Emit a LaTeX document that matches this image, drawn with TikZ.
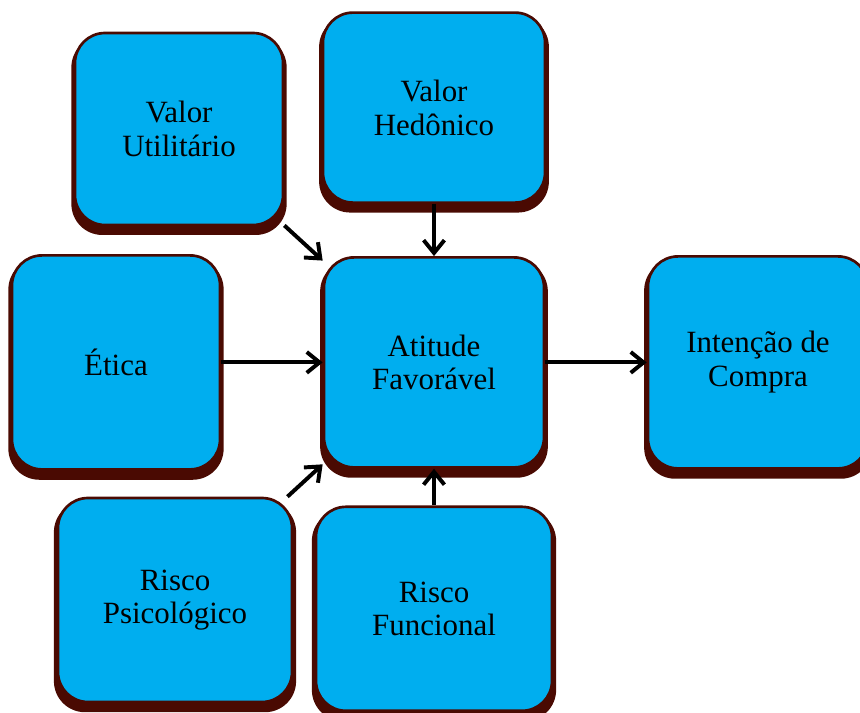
\documentclass[tikz,border=0pt]{standalone}
\usepackage{xcolor}
\usepackage{fontspec}
\setmainfont{Liberation Serif}
\usetikzlibrary{arrows.meta,shadows}
\definecolor{boxblue}{HTML}{00AEEF}
\definecolor{boxmaroon}{HTML}{4A0A02}

\begin{document}
\begin{tikzpicture}[
        bloco/.style={draw=boxmaroon, line width=1.9pt, fill=boxblue, rounded corners=0.75cm,
            align=center, text centered, font=\fontsize{22}{24}\selectfont,
            minimum width=5.4cm, minimum height=5.2cm,
            drop shadow={shadow xshift=0pt, shadow yshift=-0.16cm, shadow scale=1.035, fill=boxmaroon, opacity=1}},
        seta/.style={-{Straight Barb[length=3.2mm,width=5.2mm]}, line width=2.8pt, black}
    ]

        \useasboundingbox (0,0) rectangle (21.5,-17.8);

        % Nodes
        \node (utilitario) [bloco, minimum width=5.2cm, minimum height=4.8cm] at (4.475,-3.225) {Valor\\Utilitário};
        \node (hedonico) [bloco, minimum width=5.55cm, minimum height=4.75cm] at (10.85,-2.69) {Valor\\Hedônico};
        \node (etica) [bloco, minimum width=5.2cm, minimum height=5.35cm] at (2.9,-9.06) {Ética};
        \node (atitude) [bloco, minimum width=5.5cm, minimum height=5.25cm] at (10.85,-9.06) {Atitude\\Favorável};
        \node (intencao) [bloco, minimum width=5.5cm, minimum height=5.3cm] at (18.95,-9.06) {Intenção de\\Compra};
        \node (psicologico) [bloco, minimum width=5.85cm, minimum height=5.1cm] at (4.375,-15.0) {Risco\\Psicológico};
        \node (funcional) [bloco, minimum width=5.9cm, minimum height=5.1cm] at (10.85,-15.22) {Risco\\Funcional};

        % Arrows
        \foreach \i/\j in {utilitario/atitude, hedonico/atitude, etica/atitude, psicologico/atitude, funcional/atitude, atitude/intencao} {
            \draw[seta] (\i) -- (\j);
        }

    \end{tikzpicture}
\end{document}
